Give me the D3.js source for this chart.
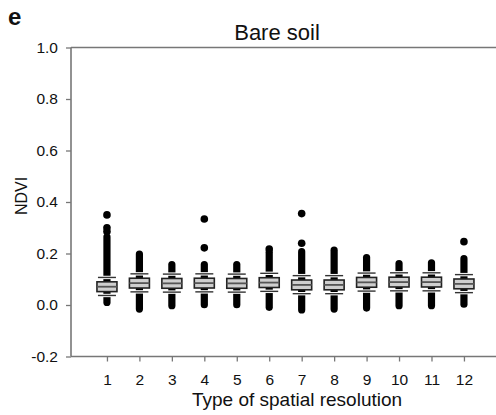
<!DOCTYPE html>
<html><head><meta charset="utf-8">
<script src="https://cdn.jsdelivr.net/npm/d3@7"></script>
<style>body{margin:0;background:#fff}svg{display:block;font-family:Arial,"Liberation Sans",sans-serif}</style>
</head><body><div id="chart"></div>
<script>
const categories = [1,2,3,4,5,6,7,8,9,10,11,12];
const median = [0.071,0.085,0.084,0.085,0.084,0.087,0.078,0.078,0.088,0.089,0.089,0.082];
const q1     = [0.052,0.066,0.065,0.066,0.065,0.068,0.059,0.059,0.069,0.070,0.070,0.063];
const q3     = [0.090,0.104,0.103,0.104,0.103,0.106,0.097,0.097,0.107,0.108,0.108,0.101];
const whiskerLo = [0.037,0.051,0.050,0.051,0.050,0.053,0.044,0.044,0.054,0.055,0.055,0.048];
const whiskerHi = [0.107,0.121,0.120,0.121,0.120,0.123,0.114,0.114,0.124,0.125,0.125,0.118];
// extent of the dense run of outlier points
const outlierMin = [0.010,-0.016,-0.003,0.001,0.001,-0.009,-0.019,-0.016,-0.012,-0.003,-0.003,0.003];
const outlierMax = [0.265,0.198,0.157,0.157,0.157,0.205,0.207,0.213,0.184,0.161,0.164,0.180];
// isolated outliers [category, value]
const isolated = [[1,0.350],[1,0.300],[1,0.285],[4,0.334],[4,0.222],[6,0.217],[7,0.355],[7,0.240],[12,0.246]];
const yTicks = [-0.2,0.0,0.2,0.4,0.6,0.8,1.0];

const W = 496, H = 415;
const svg = d3.select("#chart").append("svg").attr("width", W).attr("height", H);

const x = d3.scaleLinear().domain([0, 13]).range([74.5, 496.4]);
const y = d3.scaleLinear().domain([-0.2, 1.0]).range([356.5, 47.5]);
const axisColor = "#777";
const fmt = d => d3.format(".1f")(d).replace("\u2212", "-");

// frame lines
svg.append("line").attr("x1", 71).attr("x2", W).attr("y1", y(1.0)).attr("y2", y(1.0))
  .attr("stroke", axisColor).attr("stroke-width", 1.6);
svg.append("line").attr("x1", 71).attr("x2", W).attr("y1", y(-0.2)).attr("y2", y(-0.2))
  .attr("stroke", axisColor).attr("stroke-width", 1.6);
svg.append("line").attr("x1", 71).attr("x2", 71).attr("y1", y(1.0)).attr("y2", y(-0.2))
  .attr("stroke", axisColor).attr("stroke-width", 1.6);

// y axis
const yAxis = svg.append("g").attr("transform", "translate(71,0)")
  .call(d3.axisLeft(y).tickValues(yTicks).tickFormat(fmt).tickSize(5).tickPadding(8));
yAxis.select(".domain").remove();
yAxis.selectAll("line").attr("stroke", axisColor).attr("stroke-width", 1.3);
yAxis.selectAll("text").attr("font-size", 15.5).attr("fill", "#111")
  .attr("font-family", "Arial, 'Liberation Sans', sans-serif");

// x axis
const xAxis = svg.append("g").attr("transform", `translate(0,${y(-0.2)})`)
  .call(d3.axisBottom(x).tickValues(categories).tickFormat(d3.format("d")).tickSize(5).tickPadding(12));
xAxis.select(".domain").remove();
xAxis.selectAll("line").attr("stroke", axisColor).attr("stroke-width", 1.3);
xAxis.selectAll("text").attr("font-size", 15.5).attr("fill", "#111")
  .attr("font-family", "Arial, 'Liberation Sans', sans-serif");

const g = svg.append("g");
const boxW = 20, capW = 18;

categories.forEach((c, i) => {
  const cx = x(c);
  // dense outlier column
  g.append("line").attr("x1", cx).attr("x2", cx)
    .attr("y1", y(outlierMin[i])).attr("y2", y(outlierMax[i]))
    .attr("stroke", "#000").attr("stroke-width", 7.2).attr("stroke-linecap", "round");
  // whisker caps
  [whiskerLo[i], whiskerHi[i]].forEach(v => {
    g.append("line").attr("x1", cx - capW/2).attr("x2", cx + capW/2)
      .attr("y1", y(v)).attr("y2", y(v)).attr("stroke", "#fff").attr("stroke-width", 3.4);
    g.append("line").attr("x1", cx - capW/2).attr("x2", cx + capW/2)
      .attr("y1", y(v)).attr("y2", y(v)).attr("stroke", "#333").attr("stroke-width", 1.4);
  });
  // box
  g.append("rect").attr("x", cx - boxW/2).attr("width", boxW)
    .attr("y", y(q3[i])).attr("height", y(q1[i]) - y(q3[i]))
    .attr("fill", "#cfcfcf").attr("stroke", "#222").attr("stroke-width", 1.6);
  g.append("line").attr("x1", cx - boxW/2).attr("x2", cx + boxW/2)
    .attr("y1", y(median[i])).attr("y2", y(median[i]))
    .attr("stroke", "#555").attr("stroke-width", 1.8);
});

g.selectAll("circle.iso").data(isolated).enter().append("circle")
  .attr("class", "iso").attr("cx", d => x(d[0])).attr("cy", d => y(d[1]))
  .attr("r", 3.8).attr("fill", "#000");

// titles
svg.append("text").attr("x", 8).attr("y", 25).attr("font-size", 24).attr("font-weight", "bold")
  .attr("fill", "#111").text("e");
svg.append("text").attr("x", 277).attr("y", 40).attr("text-anchor", "middle")
  .attr("font-size", 22).attr("fill", "#111").text("Bare soil");
svg.append("text").attr("x", 297).attr("y", 406).attr("text-anchor", "middle")
  .attr("font-size", 19).attr("fill", "#111").text("Type of spatial resolution");
svg.append("text").attr("transform", "translate(27,196) rotate(-90)").attr("text-anchor", "middle")
  .attr("font-size", 16).attr("fill", "#111").text("NDVI");
</script></body></html>
